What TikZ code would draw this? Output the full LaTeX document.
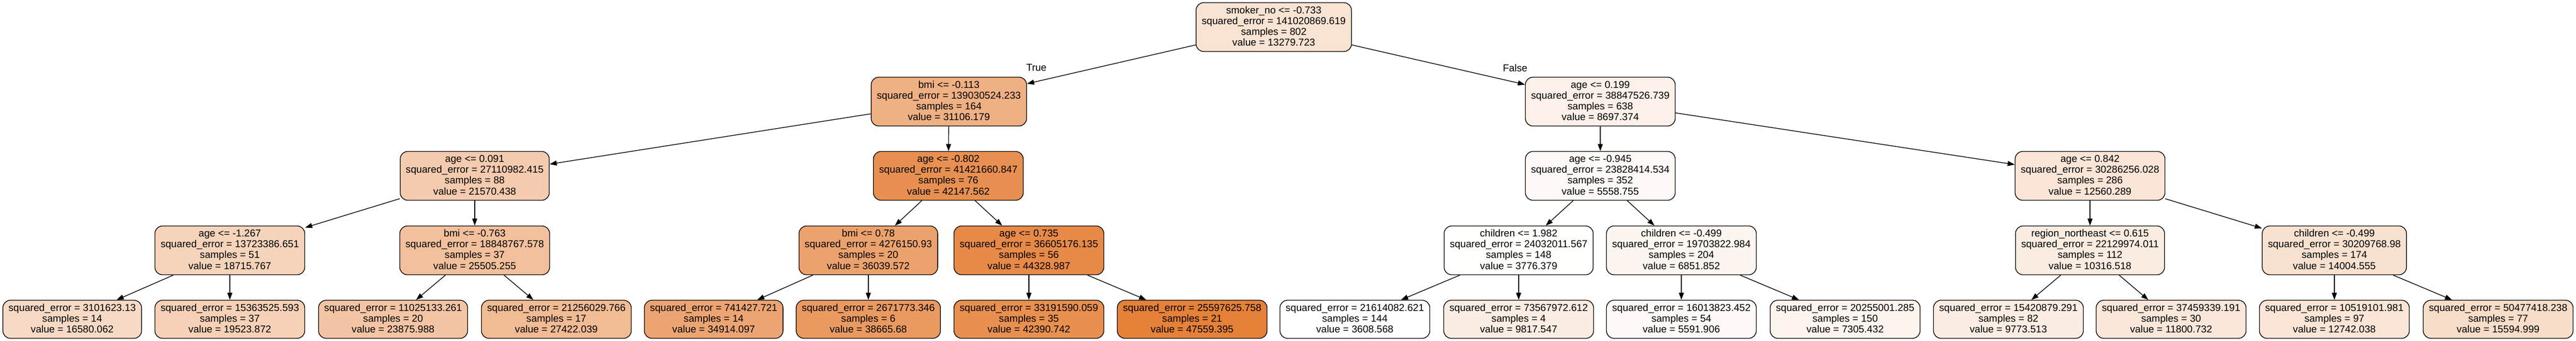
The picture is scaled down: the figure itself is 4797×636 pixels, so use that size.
\documentclass[tikz,border=0pt]{standalone}
\usepackage{fontspec}
\setmainfont{Liberation Sans}
\usetikzlibrary{arrows.meta}
\def\gvs{\vrule height 15pt depth 5.1pt width 0pt}
\newcommand{\gvnode}[4]{\gvs #1\\\gvs squared\_error = #2\\\gvs samples = #3\\\gvs value = #4}
\newcommand{\gvleaf}[3]{\gvs squared\_error = #1\\\gvs samples = #2\\\gvs value = #3}
\definecolor{n1}{RGB}{249,227,211}
\definecolor{n2}{RGB}{239,176,131}
\definecolor{n3}{RGB}{252,240,232}
\definecolor{n4}{RGB}{244,203,174}
\definecolor{n5}{RGB}{232,144,81}
\definecolor{n6}{RGB}{254,249,246}
\definecolor{n7}{RGB}{250,229,215}
\definecolor{n8}{RGB}{246,212,187}
\definecolor{n9}{RGB}{242,192,156}
\definecolor{n10}{RGB}{236,162,109}
\definecolor{n11}{RGB}{231,138,72}
\definecolor{n12}{RGB}{255,255,254}
\definecolor{n13}{RGB}{253,246,240}
\definecolor{n14}{RGB}{251,236,225}
\definecolor{n15}{RGB}{249,225,208}
\definecolor{l1}{RGB}{247,218,197}
\definecolor{l2}{RGB}{246,209,183}
\definecolor{l3}{RGB}{243,197,164}
\definecolor{l4}{RGB}{241,187,148}
\definecolor{l5}{RGB}{236,165,114}
\definecolor{l6}{RGB}{234,154,97}
\definecolor{l7}{RGB}{232,144,80}
\definecolor{l8}{RGB}{229,129,57}
\definecolor{l9}{RGB}{255,255,255}
\definecolor{l10}{RGB}{251,237,227}
\definecolor{l11}{RGB}{254,249,246}
\definecolor{l12}{RGB}{253,244,238}
\definecolor{l13}{RGB}{251,237,227}
\definecolor{l14}{RGB}{250,231,218}
\definecolor{l15}{RGB}{250,229,214}
\definecolor{l16}{RGB}{248,221,201}
\tikzset{
  tn/.style={draw=black, line width=1.33pt, rounded corners=14pt, align=center,
    inner xsep=10.5pt, inner ysep=0pt, minimum height=91pt,
    font=\fontsize{18.67pt}{20.1pt}\selectfont},
  lf/.style={tn, minimum height=71pt},
  arr/.style={line width=1.33pt, -{Triangle[length=13.3pt,width=9.3pt]}},
  lbl/.style={font=\fontsize{18.67pt}{20.1pt}\selectfont, inner sep=0pt}
}
\begin{document}
\begin{tikzpicture}[x=1pt,y=1pt]
\useasboundingbox (0,0) rectangle (4797,636);
\fill[white] (0,0) rectangle (4797,636);
% level 0
\node[tn, fill=n1] (root) at (2372,585.5) {\gvnode{smoker\_no <= -0.733}{141020869.619}{802}{13279.723}};
% level 1
\node[tn, fill=n2] (a) at (1767,446.5) {\gvnode{bmi <= -0.113}{139030524.233}{164}{31106.179}};
\node[tn, fill=n3] (b) at (2980,446.5) {\gvnode{age <= 0.199}{38847526.739}{638}{8697.374}};
% level 2
\node[tn, fill=n4] (aa) at (884,308) {\gvnode{age <= 0.091}{27110982.415}{88}{21570.438}};
\node[tn, fill=n5] (ab) at (1766,308) {\gvnode{age <= -0.802}{41421660.847}{76}{42147.562}};
\node[tn, fill=n6] (ba) at (2980,308) {\gvnode{age <= -0.945}{23828414.534}{352}{5558.755}};
\node[tn, fill=n7] (bb) at (3892,308) {\gvnode{age <= 0.842}{30286256.028}{286}{12560.289}};
% level 3
\node[tn, fill=n8] (aaa) at (428,169) {\gvnode{age <= -1.267}{13723386.651}{51}{18715.767}};
\node[tn, fill=n9] (aab) at (884,169) {\gvnode{bmi <= -0.763}{18848767.578}{37}{25505.255}};
\node[tn, fill=n10] (aba) at (1617,169) {\gvnode{bmi <= 0.78}{4276150.93}{20}{36039.572}};
\node[tn, fill=n11] (abb) at (1916,169) {\gvnode{age <= 0.735}{36605176.135}{56}{44328.987}};
\node[tn, fill=n12] (baa) at (2828,169) {\gvnode{children <= 1.982}{24032011.567}{148}{3776.379}};
\node[tn, fill=n13] (bab) at (3131,169) {\gvnode{children <= -0.499}{19703822.984}{204}{6851.852}};
\node[tn, fill=n14] (bba) at (3892,169) {\gvnode{region\_northeast <= 0.615}{22129974.011}{112}{10316.518}};
\node[tn, fill=n15] (bbb) at (4347,169) {\gvnode{children <= -0.499}{30209768.98}{174}{14004.555}};
% leaves
\node[lf, fill=l1] (L1) at (134.5,40.5) {\gvleaf{3101623.13}{14}{16580.062}};
\node[lf, fill=l2] (L2) at (428,40.5) {\gvleaf{15363525.593}{37}{19523.872}};
\node[lf, fill=l3] (L3) at (732,40.5) {\gvleaf{11025133.261}{20}{23875.988}};
\node[lf, fill=l4] (L4) at (1036,40.5) {\gvleaf{21256029.766}{17}{27422.039}};
\node[lf, fill=l5] (L5) at (1329,40.5) {\gvleaf{741427.721}{14}{34914.097}};
\node[lf, fill=l6] (L6) at (1617,40.5) {\gvleaf{2671773.346}{6}{38665.68}};
\node[lf, fill=l7] (L7) at (1916,40.5) {\gvleaf{33191590.059}{35}{42390.742}};
\node[lf, fill=l8] (L8) at (2220,40.5) {\gvleaf{25597625.758}{21}{47559.395}};
\node[lf, fill=l9] (L9) at (2523,40.5) {\gvleaf{21614082.621}{144}{3608.568}};
\node[lf, fill=l10] (L10) at (2828,40.5) {\gvleaf{73567972.612}{4}{9817.547}};
\node[lf, fill=l11] (L11) at (3131,40.5) {\gvleaf{16013823.452}{54}{5591.906}};
\node[lf, fill=l12] (L12) at (3436,40.5) {\gvleaf{20255001.285}{150}{7305.432}};
\node[lf, fill=l13] (L13) at (3740,40.5) {\gvleaf{15420879.291}{82}{9773.513}};
\node[lf, fill=l14] (L14) at (4043,40.5) {\gvleaf{37459339.191}{30}{11800.732}};
\node[lf, fill=l15] (L15) at (4347,40.5) {\gvleaf{10519101.981}{97}{12742.038}};
\node[lf, fill=l16] (L16) at (4652,40.5) {\gvleaf{50477418.238}{77}{15594.999}};
% edges
\draw[arr] (root) -- (a);
\draw[arr] (root) -- (b);
\draw[arr] (a) -- (aa);
\draw[arr] (a) -- (ab);
\draw[arr] (b) -- (ba);
\draw[arr] (b) -- (bb);
\draw[arr] (aa) -- (aaa);
\draw[arr] (aa) -- (aab);
\draw[arr] (ab) -- (aba);
\draw[arr] (ab) -- (abb);
\draw[arr] (ba) -- (baa);
\draw[arr] (ba) -- (bab);
\draw[arr] (bb) -- (bba);
\draw[arr] (bb) -- (bbb);
\draw[arr] (aaa) -- (L1);
\draw[arr] (aaa) -- (L2);
\draw[arr] (aab) -- (L3);
\draw[arr] (aab) -- (L4);
\draw[arr] (aba) -- (L5);
\draw[arr] (aba) -- (L6);
\draw[arr] (abb) -- (L7);
\draw[arr] (abb) -- (L8);
\draw[arr] (baa) -- (L9);
\draw[arr] (baa) -- (L10);
\draw[arr] (bab) -- (L11);
\draw[arr] (bab) -- (L12);
\draw[arr] (bba) -- (L13);
\draw[arr] (bba) -- (L14);
\draw[arr] (bbb) -- (L15);
\draw[arr] (bbb) -- (L16);
% edge labels
\node[lbl] (tl) at (1930,509.5) {True};
\node[lbl] (fl) at (2821.5,509.5) {False};
\end{tikzpicture}
\end{document}
